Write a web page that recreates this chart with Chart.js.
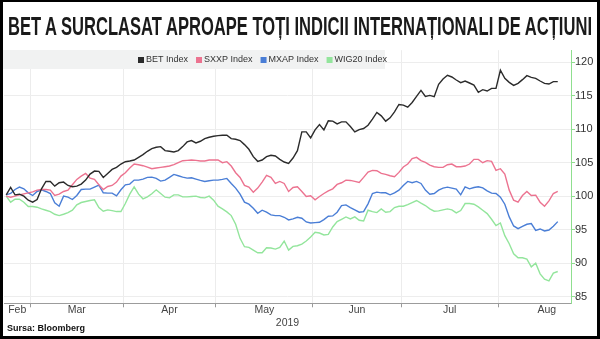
<!DOCTYPE html>
<html><head><meta charset="utf-8">
<script src="https://cdn.jsdelivr.net/npm/chart.js@4.4.1/dist/chart.umd.min.js"></script>
<style>
html,body{margin:0;padding:0;background:#fff;}
#wrap{position:relative;width:600px;height:339px;overflow:hidden;background:#fff;}
#c{position:absolute;left:0;top:0;}
#title{position:absolute;left:8px;top:12.5px;font-family:"Liberation Sans Narrow","Liberation Sans",Arial,sans-serif;font-weight:bold;font-size:26.5px;line-height:26.5px;white-space:nowrap;color:#1a1a1a;transform-origin:0 0;}
#src{position:absolute;left:7px;top:324px;font-family:"Liberation Sans",Arial,sans-serif;font-weight:bold;font-size:9px;line-height:9px;color:#111;white-space:nowrap;}
#frame{position:absolute;left:0;top:0;width:600px;height:339px;box-sizing:border-box;border-style:solid;border-color:#000;border-width:2px 3px 3px 3px;pointer-events:none;}
</style></head><body>
<div id="wrap">
<canvas id="c" width="600" height="339"></canvas>
<div id="title">BET A SURCLASAT APROAPE TOȚI INDICII INTERNAȚIONALI DE ACȚIUNI</div>
<div id="src">Sursa: Bloomberg</div>
<div id="frame"></div>
</div>
<script>
// ---- data (trading-day index 0 = 21 Feb 2019, 125 = 20 Aug 2019) ----
const seriesNames = ['BET Index', 'SXXP Index', 'MXAP Index', 'WIG20 Index'];
const betValues = [
100.2,101.3,100.2,100.3,100.0,99.4,99.1,99.5,101.1,102.2,
102.2,101.5,102.0,102.1,101.6,101.4,101.5,101.8,102.4,103.3,
103.75,103.7,102.8,103.4,104.0,104.3,104.8,105.15,105.25,105.4,
105.8,106.2,106.7,107.1,107.3,107.4,106.8,106.7,106.6,106.8,
107.4,108.1,108.3,107.95,108.2,108.6,108.8,108.95,109.05,109.1,
109.1,108.6,108.5,108.3,107.7,107.0,105.9,105.2,105.4,105.9,
106.1,106.0,105.5,105.1,104.9,105.7,106.8,109.6,109.6,108.7,
109.9,110.7,109.9,111.25,111.2,110.8,111.1,111.1,110.4,109.6,
109.95,110.1,110.6,111.5,112.5,112.0,111.2,111.7,112.6,113.7,
113.6,113.3,114.0,114.9,115.8,114.9,115.05,114.85,116.7,117.5,
118.05,117.8,117.35,116.95,117.2,116.9,116.6,115.5,115.9,115.7,
116.1,116.1,118.8,117.6,117.0,116.55,116.85,117.4,118.0,117.75,
117.6,117.2,116.85,116.75,117.1,117.1];
const sxxpValues = [
100.0,99.85,100.0,100.2,100.35,100.5,100.65,100.9,101.0,101.0,
100.9,100.1,100.3,100.7,100.9,101.7,102.5,103.0,103.4,102.7,
102.5,101.7,101.0,101.45,101.6,102.1,103.0,103.5,104.2,104.8,
104.7,104.55,104.35,104.1,104.2,104.3,104.4,104.5,104.7,105.0,
105.3,105.35,105.4,105.35,105.25,105.25,105.4,105.4,105.4,105.0,
105.15,104.5,103.5,102.8,101.6,101.35,100.6,101.2,102.1,103.1,
102.8,101.9,102.2,101.9,100.7,101.3,101.4,100.7,99.95,100.05,
99.45,99.95,100.4,100.8,101.1,101.75,102.0,102.4,102.35,102.2,
102.05,102.8,103.6,103.85,103.8,103.4,103.25,103.05,102.9,103.55,
104.35,104.8,105.6,105.8,105.3,105.05,104.65,104.4,104.3,104.3,
104.7,104.8,104.4,104.4,104.5,104.8,105.5,105.5,105.0,105.3,
105.2,103.85,104.1,103.3,100.9,99.4,99.1,100.1,100.7,100.1,
100.15,99.1,98.5,99.3,100.4,100.7];
const mxapValues = [
100.2,100.4,101.0,101.35,101.1,100.5,100.1,100.7,100.95,100.7,
100.4,99.0,98.5,100.0,99.85,99.5,100.1,101.0,101.05,101.05,
101.35,101.65,100.5,100.45,100.45,100.05,100.95,101.7,101.8,102.4,
102.4,102.55,102.8,102.85,102.65,102.25,102.4,102.8,103.25,103.05,
102.85,102.7,102.75,102.55,102.35,102.2,102.3,102.4,102.4,102.5,
102.65,101.9,101.2,100.3,99.1,98.8,98.2,97.45,97.9,97.6,
97.2,97.1,97.1,96.85,96.45,96.6,96.85,96.7,96.15,96.0,
96.05,96.1,96.5,97.0,97.05,97.6,98.6,98.7,98.3,97.95,
97.6,97.7,98.85,100.4,100.6,100.5,100.5,100.2,100.5,100.9,
101.6,102.2,102.0,102.2,101.9,100.9,100.3,100.4,100.9,101.2,
101.35,101.2,101.05,100.2,101.4,101.1,101.3,101.4,101.25,100.8,
100.45,100.4,99.85,98.8,96.9,95.55,95.15,95.5,95.8,95.9,
94.9,95.1,94.8,94.95,95.5,96.2];
const wig20Values = [
100.0,99.1,99.55,99.55,99.1,98.45,98.45,98.35,98.1,97.9,
97.7,97.3,97.1,97.3,97.55,97.9,98.7,99.05,99.2,99.35,
99.45,98.3,97.75,97.95,97.85,97.7,97.7,98.9,100.3,101.4,
100.3,99.6,99.9,100.35,100.95,100.4,99.85,99.75,100.2,100.2,
99.9,99.9,99.95,100.0,99.8,99.75,100.0,99.4,98.5,98.1,
97.65,97.1,95.8,93.7,92.45,92.35,91.95,91.55,91.55,92.3,
92.25,92.1,92.35,93.3,91.95,92.5,92.6,92.85,93.3,93.9,
94.6,94.5,94.2,94.3,95.4,96.2,96.55,96.9,96.6,96.9,
96.4,96.3,97.9,97.7,97.55,98.1,97.6,97.7,98.3,98.5,
98.5,98.75,99.05,99.35,98.95,98.6,98.1,97.75,97.8,97.95,
98.1,97.95,97.5,97.85,98.9,98.9,98.8,98.4,97.9,97.4,
96.55,95.6,96.0,94.1,92.9,91.4,90.8,90.8,90.6,89.45,
90.0,88.4,87.6,87.35,88.5,88.75];
const tradingDays = betValues.map((v, i) => i);   // category index of each trading session
const monthLabels = ['Feb', 'Mar', 'Apr', 'May', 'Jun', 'Jul', 'Aug'];
const monthLabelPos = [2.5, 16, 37, 58.5, 79.5, 100.5, 122.5];
const monthBoundaries = [5.5, 26.5, 47.5, 69.5, 89.5, 111.5];
const yTicks = [85, 90, 95, 100, 105, 110, 115, 120];
const yearLabel = '2019';

// ---- styles ----
const colors = ['#2b2b2b', '#ec7390', '#4a7ed6', '#93e59c'];
const FONT = '"Liberation Sans", Arial, sans-serif';
Chart.defaults.font.family = FONT;

const valuesList = [betValues, sxxpValues, mxapValues, wig20Values];
const datasets = seriesNames.map((name, k) => ({
  label: name,
  data: tradingDays.map((d, i) => ({x: d, y: valuesList[k][i]})),
  borderColor: colors[k],
  backgroundColor: colors[k],
  borderWidth: 1.4,
  pointRadius: 0,
  tension: 0,
  fill: false
}));

const xTickValues = monthLabelPos.concat(monthBoundaries).sort((a, b) => a - b);
const isBoundary = v => monthBoundaries.indexOf(v) >= 0;

const legendPlugin = {
  id: 'stripLegend',
  beforeDatasetsDraw(chart) {
    const ctx = chart.ctx;
    ctx.save();
    ctx.fillStyle = '#f1f2f2';
    ctx.fillRect(3, 50, 382, 19);
    ctx.font = '9px ' + FONT;
    ctx.textBaseline = 'middle';
    let x = 138;
    const yc = 60;
    chart.data.datasets.forEach(ds => {
      ctx.fillStyle = ds.borderColor;
      ctx.fillRect(x, yc - 3, 6, 6);
      ctx.fillStyle = '#333';
      ctx.textAlign = 'left';
      ctx.fillText(ds.label, x + 8, yc);
      x += 8 + ctx.measureText(ds.label).width + 8;
    });
    ctx.restore();
  }
};

new Chart(document.getElementById('c'), {
  type: 'line',
  data: {datasets},
  plugins: [legendPlugin],
  options: {
    responsive: false,
    animation: false,
    devicePixelRatio: 1,
    layout: {padding: {left: 4, top: 50.2, right: 0, bottom: 0}},
    plugins: {legend: {display: false}, tooltip: {enabled: false}, title: {display: false}},
    scales: {
      x: {
        type: 'linear', min: -0.5, max: 128,
        afterBuildTicks: s => { s.ticks = xTickValues.map(v => ({value: v})); },
        afterFit: s => { s.height = 35.7; },
        ticks: {
          autoSkip: false, maxRotation: 0, minRotation: 0, padding: -2, color: '#444',
          font: {size: 10.5, lineHeight: 1},
          callback: v => { const i = monthLabelPos.indexOf(v); return i >= 0 ? monthLabels[i] : ''; }
        },
        grid: {
          color: c => (c.tick && isBoundary(c.tick.value)) ? '#ececec' : 'rgba(0,0,0,0)',
          tickColor: c => (c.tick && isBoundary(c.tick.value)) ? '#9a9a9a' : 'rgba(0,0,0,0)',
          tickLength: 4, lineWidth: 1
        },
        border: {display: true, color: '#9c9c9c', width: 1},
        title: {display: true, text: yearLabel, color: '#444', font: {size: 10.5, lineHeight: 1}, padding: {top: 0, bottom: 10.75}}
      },
      y: {
        type: 'linear', position: 'right', min: 84, max: 121.8,
        afterBuildTicks: s => { s.ticks = yTicks.map(v => ({value: v})); },
        afterFit: s => { s.width = 29; },
        ticks: {padding: 0, color: '#333', font: {size: 11}, callback: v => String(v)},
        grid: {color: '#ededed', tickColor: '#8fdf8f', tickLength: 4, lineWidth: 1},
        border: {display: true, color: '#8fdf8f', width: 1}
      }
    }
  }
});

// fit the condensed title to its width in the reference
const t = document.getElementById('title');
const w = t.getBoundingClientRect().width;
t.style.transform = 'scaleX(' + (584 / w) + ')';
</script>
</body></html>
